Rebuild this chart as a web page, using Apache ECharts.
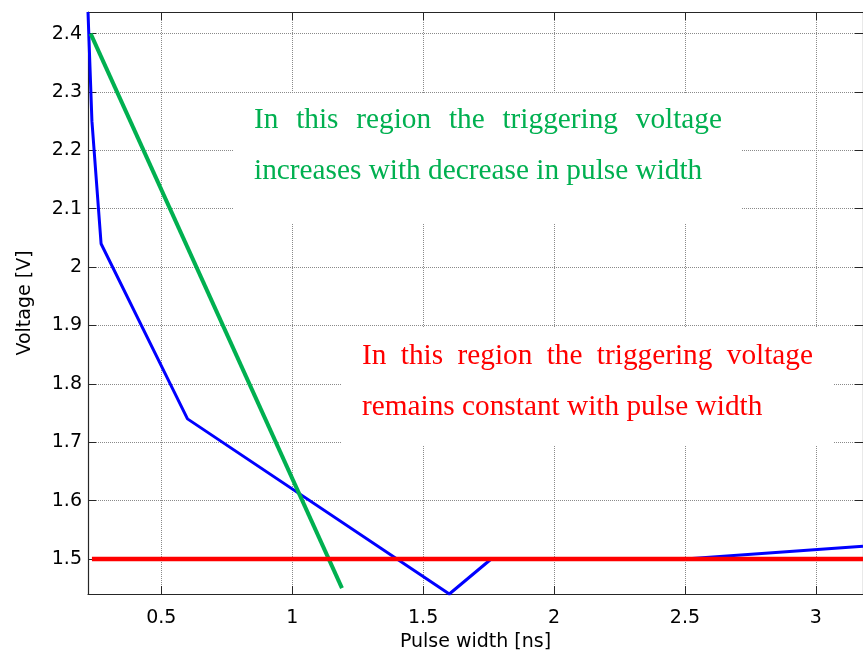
<!DOCTYPE html>
<html><head><meta charset="utf-8">
<script src="https://cdn.jsdelivr.net/npm/echarts@6/dist/echarts.min.js"></script>
<style>html,body{margin:0;padding:0;background:#fff}#c{width:863px;height:658px}</style>
</head><body><div id="c"></div>
<script>
// ---- data ----
const blueX = [0.22, 0.235, 0.27, 0.6, 1.6, 1.76, 2.5, 3.18];
const blueY = [2.437, 2.25, 2.04, 1.74, 1.44, 1.5, 1.5, 1.522];
const greenX = [0.23, 1.19];
const greenY = [2.4, 1.45];
const redX = [0.235, 3.18];
const redY = [1.5, 1.5];
const xTickLabels = [0.5, 1, 1.5, 2, 2.5, 3];
const yTickLabels = [1.5, 1.6, 1.7, 1.8, 1.9, 2, 2.1, 2.2, 2.3, 2.4];
const xLimits = [0.22, 3.18];
const yLimits = [1.44, 2.437];
const xName = 'Pulse width [ns]';
const yName = 'Voltage [V]';
const greenNote = ['In this region the triggering voltage', 'increases with decrease in pulse width'];
const redNote = ['In this region the triggering voltage', 'remains constant with pulse width'];

const zip = (a, b) => a.map((v, i) => [v, b[i]]);
const near = (v, list) => list.some(t => Math.abs(t - v) < 1e-6);

const axisColor = '#262626';
const gridColor = '#8a8a8a';
const sansFamily = 'DejaVu Sans';
const tickFont = {fontFamily: sansFamily, fontSize: 19, color: '#000'};
const noteFont = 29.3;
const noteFamily = 'Liberation Serif';

const chart = echarts.init(document.getElementById('c'), null, {renderer: 'canvas'});

function xAxisBase(pos) {
  return {
    type: 'value', min: xLimits[0], max: xLimits[1], position: pos,
    splitNumber: 6, minInterval: 0.5, maxInterval: 0.5,
    axisLine: {show: true, onZero: false, lineStyle: {color: axisColor, width: 1.2}},
    axisTick: {show: true, inside: true, length: 8, lineStyle: {color: axisColor, width: 1}},
  };
}
function yAxisBase(pos) {
  return {
    type: 'value', min: yLimits[0], max: yLimits[1], position: pos,
    splitNumber: 10, minInterval: 0.1, maxInterval: 0.1,
    axisLine: {show: true, onZero: false, lineStyle: {color: axisColor, width: 1.2}},
    axisTick: {show: true, inside: true, length: 8, lineStyle: {color: axisColor, width: 1}},
  };
}

// justified first line helper
const measureCtx = document.createElement('canvas').getContext('2d');
function justifiedWords(text, left, right, y, color) {
  measureCtx.font = noteFont + 'px "' + noteFamily + '"';
  const words = text.split(' ');
  const widths = words.map(w => measureCtx.measureText(w).width);
  const total = widths.reduce((a, b) => a + b, 0);
  const gap = (right - left - total) / (words.length - 1);
  let x = left;
  return words.map((w, i) => {
    const el = {type: 'text', z: 5, x: x, y: y,
      style: {text: w, fill: color, font: noteFont + 'px "' + noteFamily + '"', textVerticalAlign: 'middle', verticalAlign: 'middle'}};
    x += widths[i] + gap;
    return el;
  });
}
function plainLine(text, left, y, color) {
  return {type: 'text', z: 5, x: left, y: y,
    style: {text: text, fill: color, font: noteFont + 'px "' + noteFamily + '"', textVerticalAlign: 'middle', verticalAlign: 'middle'}};
}

const greenC = '#00B050';
const redC = '#FF0000';

const option = {
  animation: false,
  backgroundColor: '#fff',
  grid: {left: 88, right: -2, top: 12, bottom: 64, containLabel: false},
  xAxis: [
    Object.assign(xAxisBase('bottom'), {
      name: xName, nameLocation: 'middle', nameGap: 39,
      nameTextStyle: {fontFamily: sansFamily, fontSize: 19, color: '#000'},
      axisLabel: Object.assign({show: true, margin: 15, showMinLabel: false, showMaxLabel: false,
        formatter: v => near(v, xTickLabels) ? String(+v.toFixed(2)) : ''}, tickFont),
      splitLine: {show: true, lineStyle: {color: gridColor, width: 1, type: [1, 1]}}
    }),
    Object.assign(xAxisBase('top'), {axisLabel: {show: false}, splitLine: {show: false}})
  ],
  yAxis: [
    Object.assign(yAxisBase('left'), {
      name: yName, nameLocation: 'middle', nameGap: 53, nameRotate: 90,
      nameTextStyle: {fontFamily: sansFamily, fontSize: 19, color: '#000'},
      axisLabel: Object.assign({show: true, margin: 6, showMinLabel: false, showMaxLabel: false,
        formatter: v => near(v, yTickLabels) ? String(+v.toFixed(2)) : ''}, tickFont),
      splitLine: {show: true, lineStyle: {color: gridColor, width: 1, type: [1, 1]}}
    }),
    Object.assign(yAxisBase('right'), {axisLabel: {show: false}, splitLine: {show: false}})
  ],
  series: [
    {type: 'line', name: 'measured', xAxisIndex: 0, yAxisIndex: 0, data: zip(blueX, blueY),
      showSymbol: false, clip: false, lineStyle: {color: '#0000FF', width: 3}, z: 3},
    {type: 'line', name: 'trend', xAxisIndex: 0, yAxisIndex: 0, data: zip(greenX, greenY),
      showSymbol: false, clip: false, lineStyle: {color: greenC, width: 4}, z: 4},
    {type: 'line', name: 'constant', xAxisIndex: 0, yAxisIndex: 0, data: zip(redX, redY),
      showSymbol: false, clip: false, lineStyle: {color: redC, width: 4.5}, z: 5}
  ],
  graphic: {elements: [
    {type: 'rect', z: 1, shape: {x: 233, y: 93, width: 509, height: 130}, style: {fill: '#fff'}},
    {type: 'rect', z: 1, shape: {x: 342, y: 327, width: 492, height: 119}, style: {fill: '#fff'}},
    ...justifiedWords(greenNote[0], 254, 722, 120, greenC),
    plainLine(greenNote[1], 254, 171, greenC),
    ...justifiedWords(redNote[0], 362, 813, 356, redC),
    plainLine(redNote[1], 362, 407, redC)
  ]}
};
chart.setOption(option);
</script>
</body></html>
